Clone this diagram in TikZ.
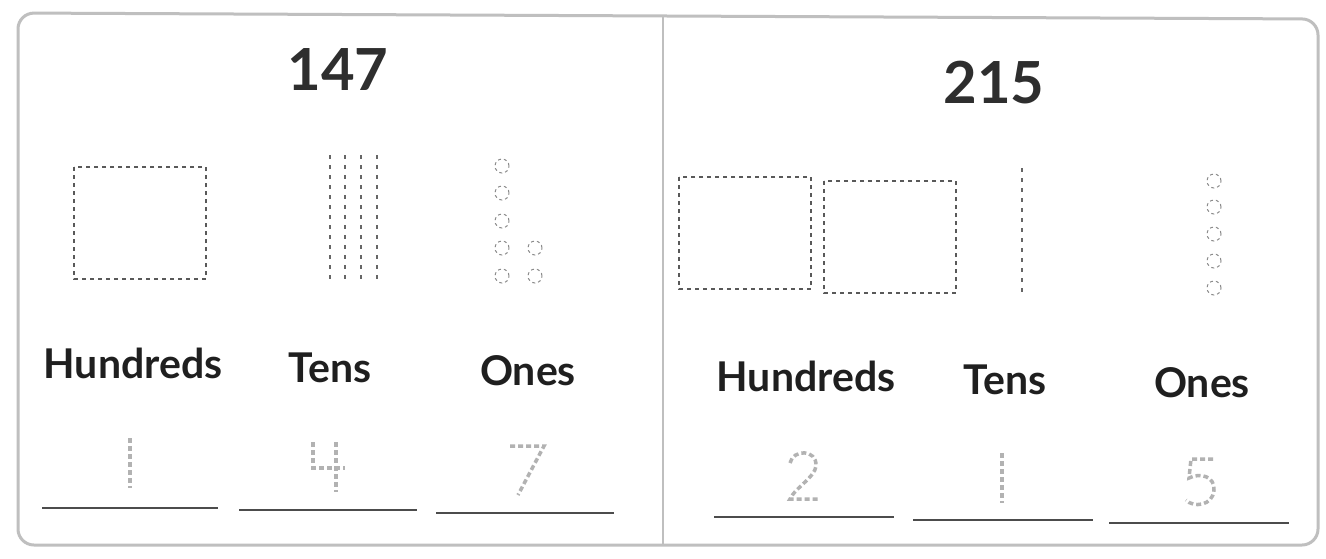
\documentclass[tikz,border=0pt]{standalone}
\usepackage{fontspec}
\setmainfont{Lato}
\begin{document}
\begin{tikzpicture}[x=1pt,y=-1pt,
  frame/.style={draw=black!25,line width=3pt,rounded corners=16pt},
  lbl/.style={font=\fontsize{41}{44}\selectfont\bfseries,text=black!88,inner sep=0,anchor=base},
  bignum/.style={font=\fontsize{58}{60}\selectfont\bfseries,text=black!82,inner sep=0,anchor=base},
  hsquare/.style={draw=black!65,line width=1.2pt,dash pattern=on 4pt off 4pt},
  tenrod/.style={draw=black!60,line width=1.4pt,dash pattern=on 4pt off 6pt},
  onecirc/.style={draw=black!45,line width=1pt,dash pattern=on 3pt off 3pt},
  digitdash/.style={draw=black!30,line width=3.5pt,dash pattern=on 5pt off 3pt},
  rule/.style={draw=black!70,line width=1.5pt}]
\useasboundingbox (0,0) rectangle (1326,558);
\fill[white] (0,0) rectangle (1326,558);
% frame
\draw[frame] (18,13) -- (1318,19) -- (1318,545) -- (18,545) -- cycle;
\draw[draw=black!25,line width=2.5pt] (663,16) -- (663,545);
% ---------- left panel ----------
\node[bignum] (n147) at (338,90) {147};
\draw[hsquare] (74,167) rectangle (206,279);
\foreach \x in {330,345,361,377} \draw[tenrod] (\x,155) -- (\x,284);
\foreach \y in {166,193,221,248,276} \draw[onecirc] (502,\y) circle (7pt);
\foreach \y in {248,276} \draw[onecirc] (535,\y) circle (7pt);
\node[lbl] (lh) at (133,378) {Hundreds};
\node[lbl] (lt) at (330,382) {Tens};
\node[lbl] (lo) at (528,385) {Ones};
\draw[digitdash] (130,438) -- (130,488);
\draw[digitdash] (313,442) -- (313,468) -- (345,468);
\draw[digitdash] (336,442) -- (336,492);
\draw[digitdash] (510,446) -- (544,446) -- (518,495);
\draw[rule] (42,508) -- (218,508);
\draw[rule] (239,510) -- (417,510);
\draw[rule] (436,513) -- (614,513);
% ---------- right panel ----------
\node[bignum] (n215) at (994,103) {215};
\draw[hsquare] (679,177) rectangle (811,289);
\draw[hsquare] (824,181) rectangle (956,293);
\draw[tenrod] (1022,168) -- (1022,294);
\foreach \y in {181,207,234,261,288} \draw[onecirc] (1214,\y) circle (7pt);
\node[lbl] (rh) at (806,391) {Hundreds};
\node[lbl] (rt) at (1005,394) {Tens};
\node[lbl] (ro) at (1202,397) {Ones};
\draw[digitdash] (790,463) .. controls (793,449) and (817,449) .. (816,466) .. controls (815,477) and (795,488) .. (790,499) -- (818,499);
\draw[digitdash] (1002,453) -- (1002,503);
\draw[digitdash] (1213,459) -- (1191,459) -- (1189,478) .. controls (1201,472) and (1215,477) .. (1214,490) .. controls (1213,506) and (1193,508) .. (1186,500);
\draw[rule] (714,517) -- (894,517);
\draw[rule] (913,520) -- (1093,520);
\draw[rule] (1109,523) -- (1289,523);
\end{tikzpicture}
\end{document}
